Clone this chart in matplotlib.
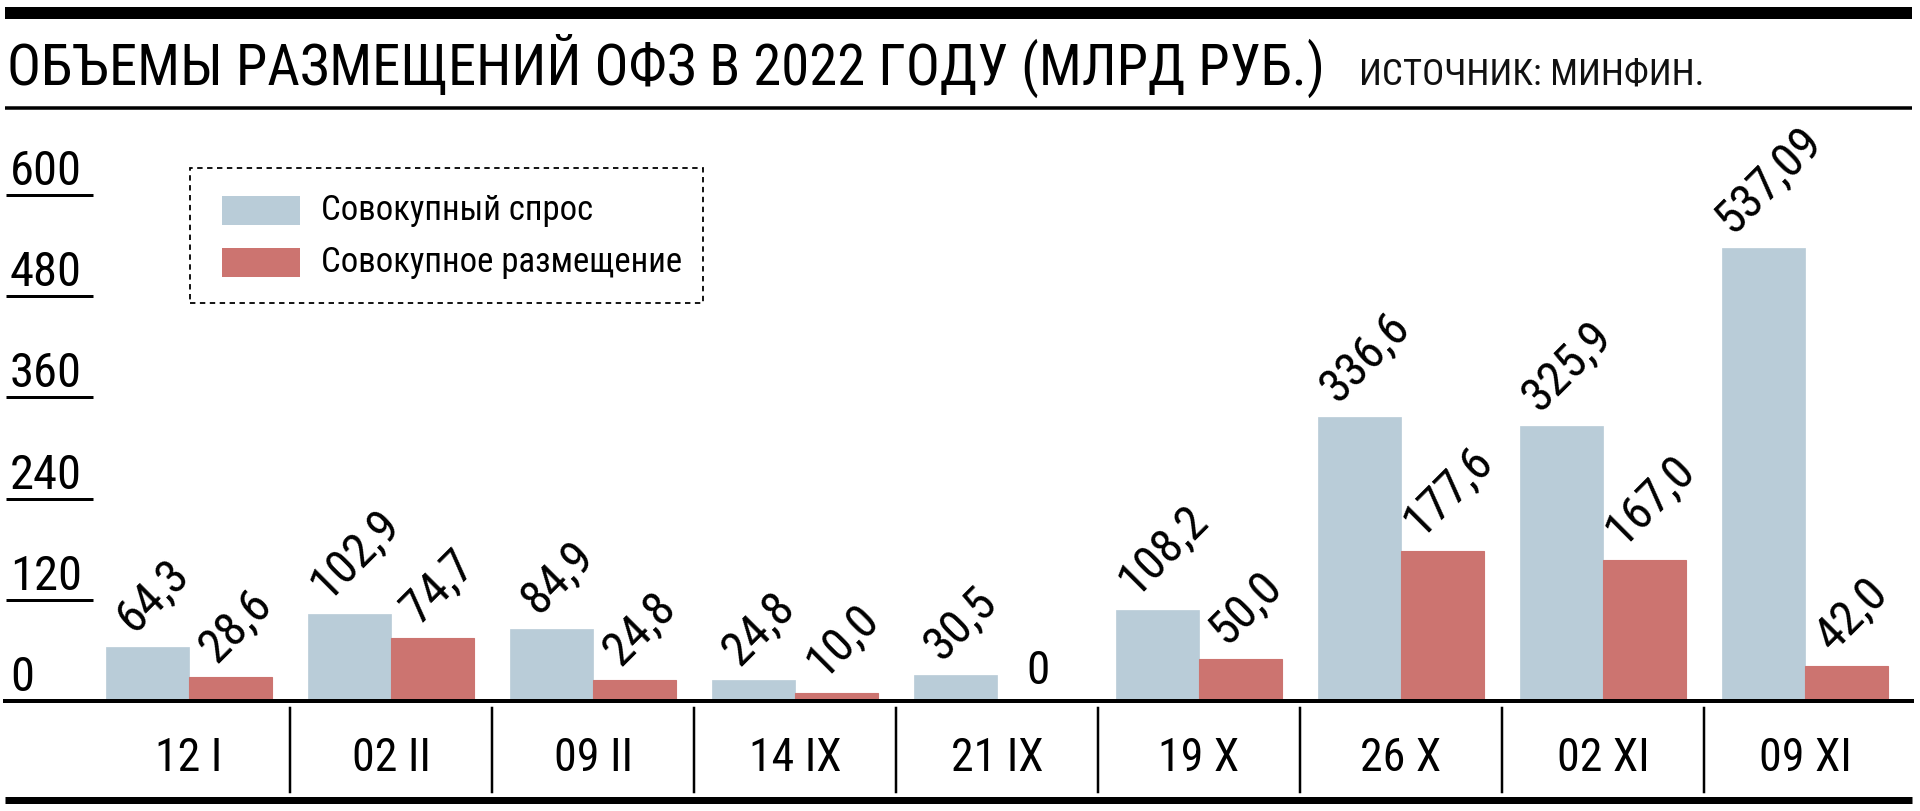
import matplotlib
matplotlib.use('Agg')
import matplotlib.pyplot as plt
from matplotlib import font_manager as fm
from matplotlib.lines import Line2D
from matplotlib.patches import Rectangle
import matplotlib.transforms as mtrans

# ---------------- data ----------------
categories = ['12 I', '02 II', '09 II', '14 IX', '21 IX', '19 X', '26 X', '02 XI', '09 XI']
demand = [64.3, 102.9, 84.9, 24.8, 30.5, 108.2, 336.6, 325.9, 537.09]
placement = [28.6, 74.7, 24.8, 10.0, 0.0, 50.0, 177.6, 167.0, 42.0]
demand_labels = ['64,3', '102,9', '84,9', '24,8', '30,5', '108,2', '336,6', '325,9', '537,09']
placement_labels = ['28,6', '74,7', '24,8', '10,0', '0', '50,0', '177,6', '167,0', '42,0']
yticks = [0, 120, 240, 360, 480, 600]
series_names = ['Совокупный спрос', 'Совокупное размещение']
title = 'ОБЪЕМЫ РАЗМЕЩЕНИЙ ОФЗ В 2022 ГОДУ (МЛРД РУБ.)'
source = 'ИСТОЧНИК: МИНФИН.'

BLUE = '#B9CCD8'
RED = '#CC7470'

# ---------------- font ----------------
avail = {f.name for f in fm.fontManager.ttflist}
FONT = None
for cand in ['Liberation Sans Narrow', 'Roboto Condensed', 'Open Sans Condensed',
             'Noto Sans Condensed', 'DejaVu Sans Condensed']:
    if cand in avail:
        FONT = cand
        break
if FONT is None:
    FONT = 'Liberation Sans'
plt.rcParams['font.family'] = [FONT, 'DejaVu Sans']

W, H = 1920, 811
fig = plt.figure(figsize=(W / 100, H / 100), dpi=100)
fig.patch.set_facecolor('white')


def fx(x):
    return x / W


def fy(y):
    return 1 - y / H


def pt(px):
    return px * 0.72


# ---------------- axes ----------------
base_px, top_px = 701, 120
px_per_unit = (701 - 195) / 600.0
ax = fig.add_axes([fx(5), fy(base_px), (1912 - 5) / W, (base_px - top_px) / H])
ax.set_xlim((5 - 189) / 202.0, (1912 - 189) / 202.0)
ax.set_ylim(0, (base_px - top_px) / px_per_unit)
ax.axis('off')

bw = 0.41
xs = list(range(len(categories)))
b1 = ax.bar([x - bw / 2 for x in xs], demand, width=bw, color=BLUE, edgecolor=BLUE, linewidth=0.5)
b2 = ax.bar([x + bw / 2 for x in xs], placement, width=bw, color=RED, edgecolor=RED, linewidth=0.8)

for bars, labs in ((b1, demand_labels), (b2, placement_labels)):
    for rect, lab in zip(bars, labs):
        h = rect.get_height()
        cx = rect.get_x() + rect.get_width() / 2
        if h == 0:
            ax.annotate(lab, xy=(cx, 0), xytext=(0, pt(8)),
                        textcoords='offset points', ha='center', va='bottom', fontsize=34)
        else:
            ax.annotate(lab, xy=(cx, h), xytext=(pt(6), pt(6)),
                        textcoords='offset points', rotation=45,
                        ha='center', va='bottom', fontsize=35)

# baseline
ax.axhline(0, color='black', lw=pt(4), clip_on=False, zorder=5)

# y tick labels with underlines
bt = mtrans.blended_transform_factory(fig.transFigure, ax.transData)
for v in yticks:
    ax.text(fx(10), v + 10 / px_per_unit, str(v), transform=bt, ha='left', va='baseline', fontsize=35)
    if v != 0:
        ax.add_line(Line2D([fx(6), fx(93)], [v, v], transform=bt, color='black', lw=pt(3),
                           clip_on=False, solid_capstyle='butt'))

# x category labels and separators
bx = mtrans.blended_transform_factory(ax.transData, fig.transFigure)
for x, c in zip(xs, categories):
    ax.text(x, fy(758), c, transform=bx, ha='center', va='center', fontsize=33, clip_on=False)
for x in xs[:-1]:
    ax.add_line(Line2D([x + 0.5, x + 0.5], [fy(708), fy(792)], transform=bx, color='black',
                       lw=pt(2.5), clip_on=False))

# ---------------- decorations ----------------
def hline(y, x0, x1, lw_px):
    fig.add_artist(Line2D([fx(x0), fx(x1)], [fy(y), fy(y)], transform=fig.transFigure,
                          color='black', lw=pt(lw_px), solid_capstyle='butt'))


hline(13, 5, 1912, 12)
hline(108, 5, 1912, 3.5)
hline(800, 5, 1912, 7)

fig.text(fx(7), fy(85), title, ha='left', va='baseline', fontsize=40.8)
fig.text(fx(1359), fy(85), source, ha='left', va='baseline', fontsize=26.6, color='#111111')

# legend (manual)
fig.add_artist(Rectangle((fx(190), fy(303)), fx(703 - 190), (303 - 168) / H, transform=fig.transFigure,
                         fill=False, edgecolor='black', lw=pt(1.8), linestyle=(0, (3, 2.5))))
for (y0, y1), col, name in (((196, 225), BLUE, series_names[0]), ((248, 277), RED, series_names[1])):
    fig.add_artist(Rectangle((fx(222), fy(y1)), fx(300 - 222), (y1 - y0) / H, transform=fig.transFigure,
                             facecolor=col, edgecolor='none'))
    fig.text(fx(321), fy((y0 + y1) / 2), name, ha='left', va='center', fontsize=25)

fig.savefig('out.png', dpi=100, facecolor='white')
